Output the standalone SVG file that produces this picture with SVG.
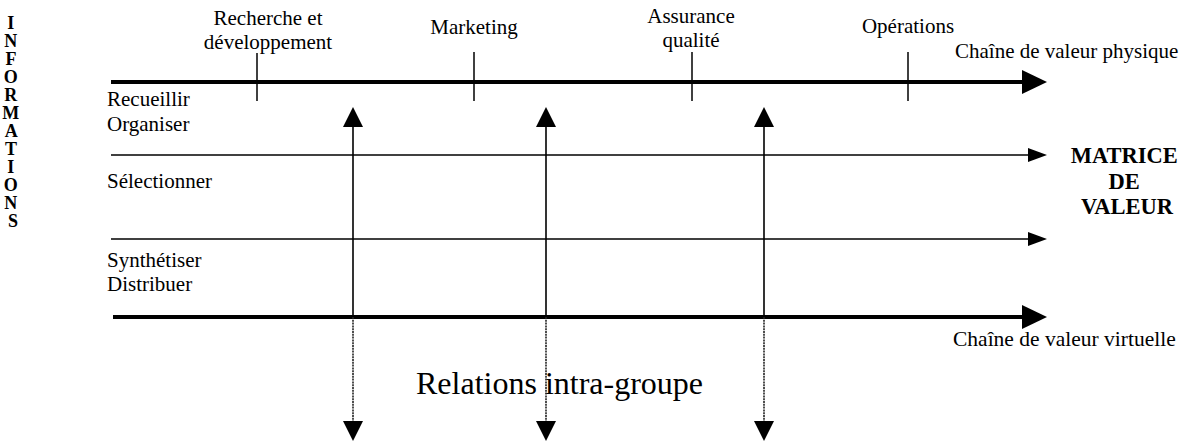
<svg xmlns="http://www.w3.org/2000/svg" width="1189" height="443" viewBox="0 0 1189 443">
  <style>
    text { font-family: 'Liberation Serif', 'Times New Roman', serif; fill: #000; }
    .t { font-size: 21px; }
    .big { font-size: 32px; }
    .b { font-size: 18px; font-weight: bold; }
    .bm { font-size: 22.5px; font-weight: bold; }
    .thick { stroke: #000; stroke-width: 4; fill: none; }
    .thin { stroke: #000; stroke-width: 1.6; fill: none; }
    .tick { stroke: #000; stroke-width: 1.5; fill: none; }
    .vert { stroke: #000; stroke-width: 1.6; fill: none; }
    .vert-low { stroke: #222; stroke-width: 1.6; stroke-dasharray: 2 0.8; fill: none; }
    .head { fill: #000; stroke: none; }
  </style>

  <!-- side label -->
  <g id="informations">
    <text class="b" text-anchor="middle">
      <tspan x="13" y="29">I</tspan>
      <tspan x="13" y="47">N</tspan>
      <tspan x="13" y="65">F</tspan>
      <tspan x="13" y="83">O</tspan>
      <tspan x="13" y="101">R</tspan>
      <tspan x="13" y="119">M</tspan>
      <tspan x="13" y="137">A</tspan>
      <tspan x="13" y="155">T</tspan>
      <tspan x="13" y="173">I</tspan>
      <tspan x="13" y="191">O</tspan>
      <tspan x="13" y="209">N</tspan>
      <tspan x="13" y="227">S</tspan>
    </text>
  </g>

  <!-- activity labels along the physical chain -->
  <g id="rd">
    <text class="t" text-anchor="middle"><tspan x="268" y="25">Recherche et</tspan><tspan x="268" y="49">développement</tspan></text>
  </g>
  <g id="marketing">
    <text class="t" x="474" y="34" text-anchor="middle">Marketing</text>
  </g>
  <g id="qualite">
    <text class="t" text-anchor="middle"><tspan x="691" y="23">Assurance</tspan><tspan x="691" y="47">qualité</tspan></text>
  </g>
  <g id="operations">
    <text class="t" x="908" y="33" text-anchor="middle">Opérations</text>
  </g>
  <g id="chaine-physique">
    <text class="t" x="955" y="58">Chaîne de valeur physique</text>
  </g>

  <!-- information steps -->
  <g id="recueillir">
    <text class="t"><tspan x="107" y="106">Recueillir</tspan><tspan x="107" y="131">Organiser</tspan></text>
  </g>
  <g id="selectionner">
    <text class="t" x="107" y="188">Sélectionner</text>
  </g>
  <g id="synthetiser">
    <text class="t"><tspan x="107" y="267">Synthétiser</tspan><tspan x="107" y="291">Distribuer</tspan></text>
  </g>
  <g id="chaine-virtuelle">
    <text class="t" x="953" y="346" style="font-size:21.5px">Chaîne de valeur virtuelle</text>
  </g>

  <g id="matrice">
    <text class="bm" text-anchor="middle">
      <tspan x="1127" y="163">MATRICE</tspan>
      <tspan x="1127" y="189">DE</tspan>
      <tspan x="1127" y="214">VALEUR</tspan>
    </text>
  </g>

  <g id="relations">
    <text class="big" x="416" y="394">Relations intra-groupe</text>
  </g>

  <!-- connectors -->
  <g id="connectors">
    <!-- physical value chain -->
    <line class="thick" x1="111" y1="82" x2="1024" y2="82"/>
    <polygon class="head" points="1022,70 1047,82 1022,94"/>
    <line class="tick" x1="257" y1="53" x2="257" y2="101"/>
    <line class="tick" x1="474" y1="52" x2="474" y2="101"/>
    <line class="tick" x1="692" y1="52" x2="692" y2="101"/>
    <line class="tick" x1="908" y1="52" x2="908" y2="101"/>

    <!-- information flows -->
    <line class="thin" x1="111" y1="155" x2="1030" y2="155"/>
    <polygon class="head" points="1028,148 1047,155 1028,162"/>
    <line class="thin" x1="111" y1="239" x2="1030" y2="239"/>
    <polygon class="head" points="1028,232 1047,239 1028,246"/>

    <!-- virtual value chain -->
    <line class="thick" x1="113" y1="317" x2="1024" y2="317"/>
    <polygon class="head" points="1022,305 1047,317 1022,329"/>

    <!-- vertical links -->
    <line class="vert" x1="353" y1="125" x2="353" y2="317"/>
    <line class="vert-low" x1="353" y1="317" x2="353" y2="423"/>
    <polygon class="head" points="353,107 343,127 363,127"/>
    <polygon class="head" points="353,441 343,421 363,421"/>

    <line class="vert" x1="546" y1="125" x2="546" y2="317"/>
    <line class="vert-low" x1="546" y1="317" x2="546" y2="423"/>
    <polygon class="head" points="546,107 536,127 556,127"/>
    <polygon class="head" points="546,441 536,421 556,421"/>

    <line class="vert" x1="764" y1="125" x2="764" y2="317"/>
    <line class="vert-low" x1="764" y1="317" x2="764" y2="423"/>
    <polygon class="head" points="764,107 754,127 774,127"/>
    <polygon class="head" points="764,441 754,421 774,421"/>
  </g>
</svg>
